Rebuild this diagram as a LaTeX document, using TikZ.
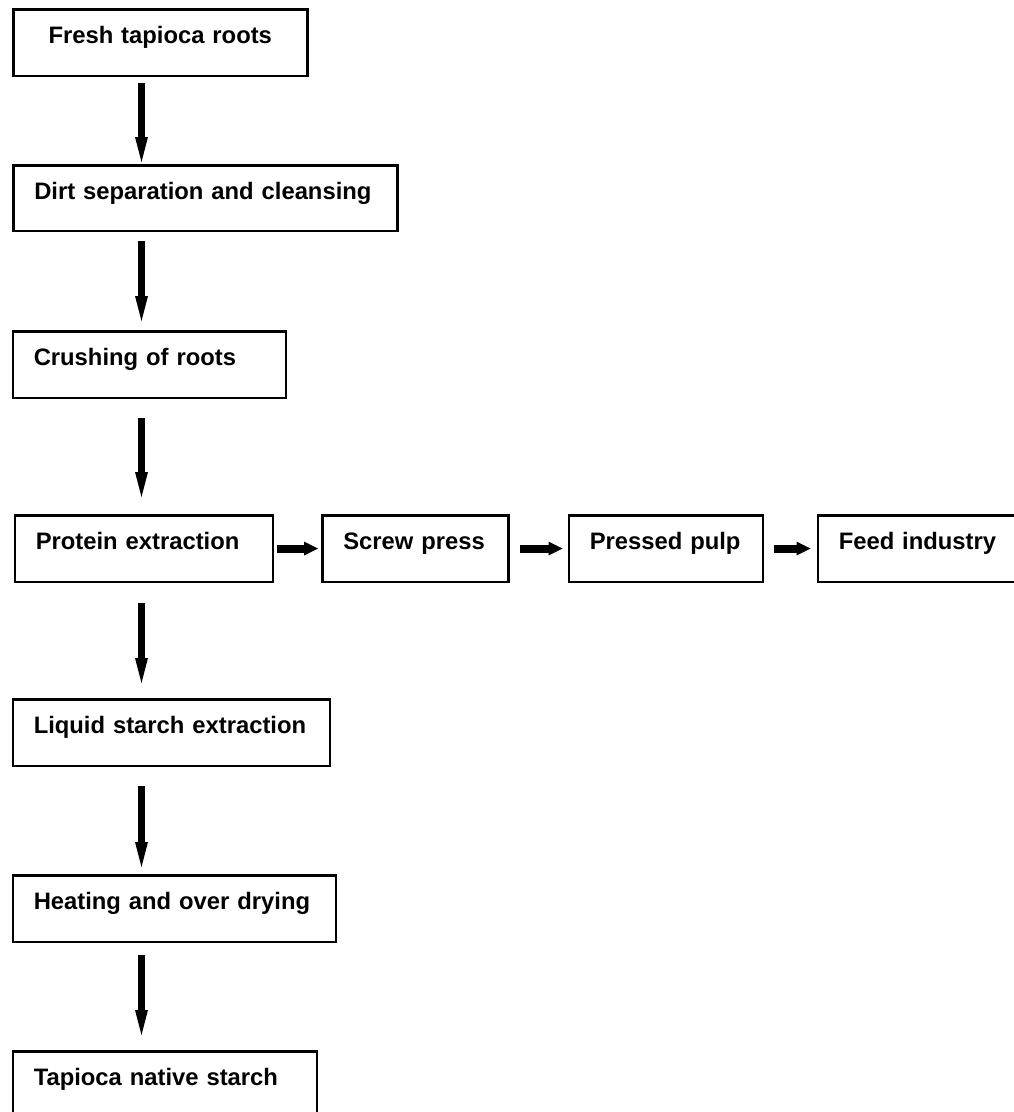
\documentclass[tikz,border=0pt]{standalone}
\usepackage{fontspec}
\setmainfont{Liberation Sans}
\usetikzlibrary{arrows.meta}
\tikzset{
  box/.style={draw, line width=2.5pt, inner sep=0pt, text height=34pt, text depth=32.5pt,
    anchor=north west, font=\fontsize{23.8pt}{28pt}\selectfont\bfseries},
  lbox/.style={box, align=left, text width=#1, execute at begin node={\noindent\hspace*{21pt}}},
  cbox/.style={box, align=center, text width=#1},
  varrow/.style={line width=7pt, -{Triangle[length=25pt,width=13pt,line width=0pt]}},
  harrow/.style={line width=8pt, -{Triangle[length=14pt,width=14pt,line width=0pt]}}
}
\begin{document}
\begin{tikzpicture}[x=1pt,y=-1pt]
\useasboundingbox (0,0) rectangle (1014,1112);
\clip (0,0) rectangle (1014,1112);
\node[cbox=294pt] (b1) at (12,8) {Fresh tapioca roots};
\node[lbox=384pt, text depth=31.5pt] (b2) at (12,164) {Dirt separation and cleansing};
\node[lbox=273pt] (b3) at (11.5,330) {Crushing of roots};
\node[lbox=258pt] (b4) at (13.5,514) {Protein extraction};
\node[lbox=186pt] (b5) at (321,514) {Screw press};
\node[lbox=194pt] (b6) at (567.5,514) {Pressed pulp};
\node[lbox=220pt] (b7) at (816.5,514) {Feed industry};
\node[lbox=317pt] (b8) at (11.5,698) {Liquid starch extraction};
\node[lbox=323pt] (b9) at (11.5,874) {Heating and over drying};
\node[lbox=304pt] (b10) at (11.5,1050) {Tapioca native starch};
\coordinate (ax) at (141.5,0);
\draw[varrow, shorten <=6pt, shorten >=2pt] (b1.south -| ax) -- (b2.north -| ax);
\draw[varrow, shorten <=9pt, shorten >=9pt] (b2.south -| ax) -- (b3.north -| ax);
\draw[varrow, shorten <=19pt, shorten >=17pt] (b3.south -| ax) -- (b4.north -| ax);
\draw[varrow, shorten <=20pt, shorten >=15pt] (b4.south -| ax) -- (b8.north -| ax);
\draw[varrow, shorten <=19pt, shorten >=7pt] (b8.south -| ax) -- (b9.north -| ax);
\draw[varrow, shorten <=12pt, shorten >=15pt] (b9.south -| ax) -- (b10.north -| ax);
\draw[harrow, shorten <=3pt, shorten >=3pt] (b4.east) -- (b5.west);
\draw[harrow, shorten <=10pt, shorten >=5pt] (b5.east) -- (b6.west);
\draw[harrow, shorten <=10pt, shorten >=6pt] (b6.east) -- (b7.west);
\end{tikzpicture}
\end{document}
